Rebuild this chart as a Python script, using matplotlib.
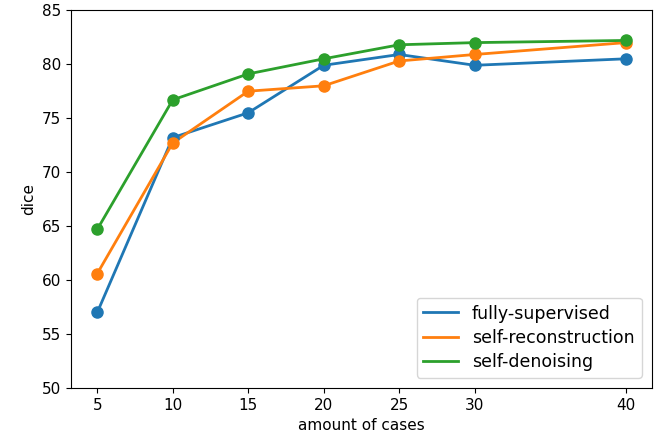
import matplotlib
matplotlib.use('Agg')
import matplotlib.pyplot as plt

cases = [5, 10, 15, 20, 25, 30, 40]
fully_supervised = [57.0, 73.2, 75.5, 79.9, 80.9, 79.9, 80.5]
self_reconstruction = [60.6, 72.7, 77.5, 78.0, 80.3, 80.9, 82.0]
self_denoising = [64.7, 76.7, 79.1, 80.5, 81.8, 82.0, 82.2]

fig = plt.figure(figsize=(6.62, 4.45), dpi=100)
ax = fig.add_subplot(111)
fig.subplots_adjust(left=0.107, right=0.985, top=0.977, bottom=0.128)

ax.plot(cases, fully_supervised, color='C0', lw=2, label='fully-supervised')
ax.plot(cases, self_reconstruction, color='C1', lw=2, label='self-reconstruction')
ax.plot(cases, self_denoising, color='C2', lw=2, label='self-denoising')
ax.scatter(cases, fully_supervised, color='C0', s=64, zorder=3)
ax.scatter(cases, self_reconstruction, color='C1', s=64, zorder=3)
ax.scatter(cases, self_denoising, color='C2', s=64, zorder=3)

ax.set_xticks(cases)
ax.set_ylim(50, 85)
ax.set_xlabel('amount of cases', fontsize=11)
ax.set_ylabel('dice', fontsize=11)
ax.tick_params(labelsize=11)
ax.legend(loc='lower right', fontsize=12.5, labelspacing=0.35, borderaxespad=0.6)
plt.savefig('out.png', dpi=100)
